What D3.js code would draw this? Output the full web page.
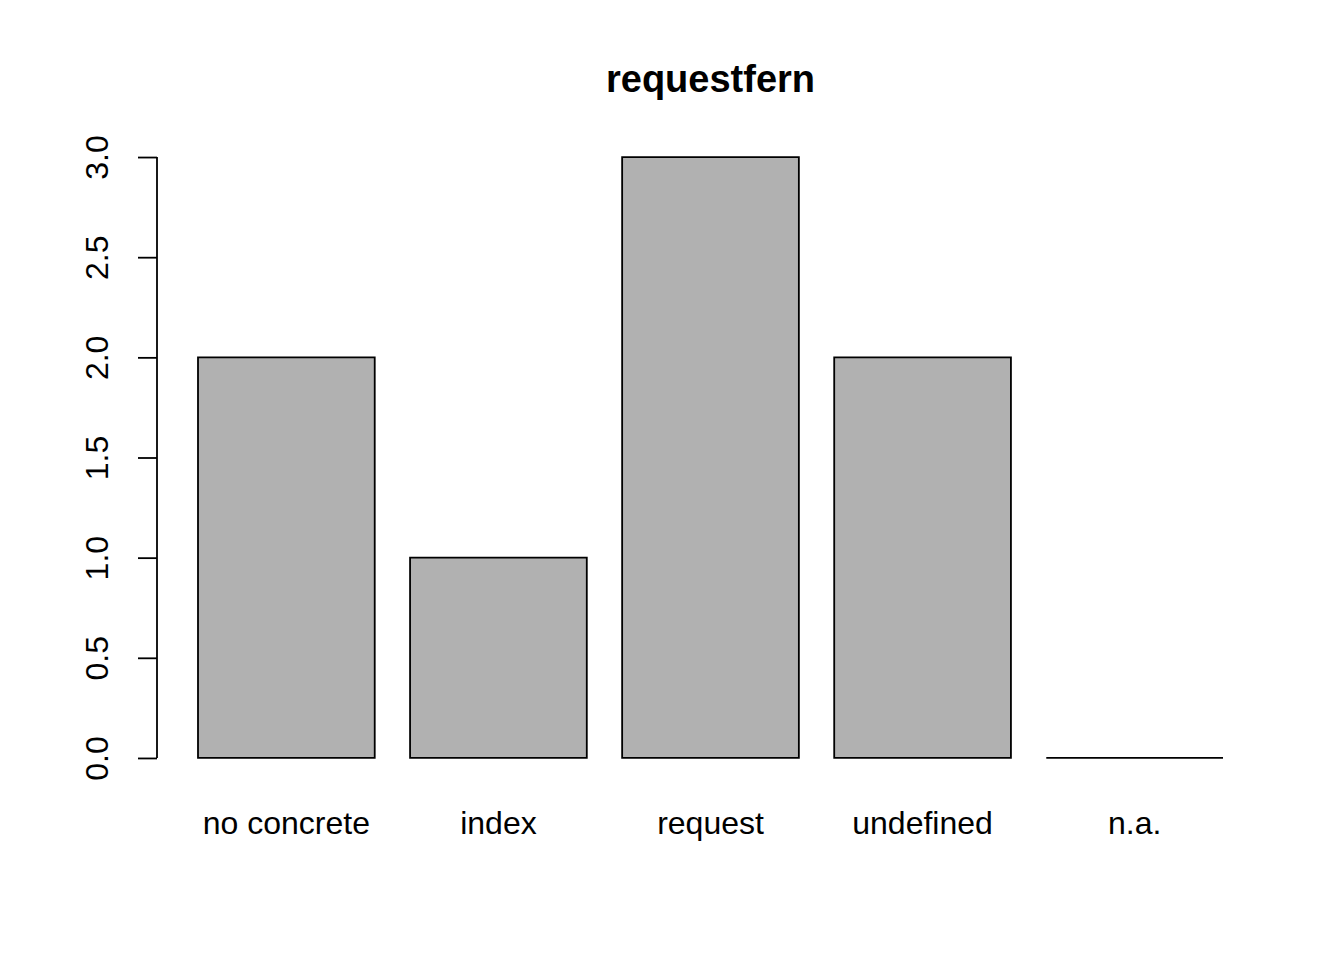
<!DOCTYPE html>
<html>
<head>
<meta charset="utf-8">
<script src="https://cdn.jsdelivr.net/npm/d3@7"></script>
<style>
  body { margin: 0; background: #fff; }
  text { font-family: "Liberation Sans", Arial, Helvetica, sans-serif; fill: #000; }
</style>
</head>
<body>
<svg id="chart"></svg>
<script>
// данные диаграммы
let categories = ["no concrete", "index", "request", "undefined", "n.a."];
let counts = [2, 1, 3, 2, 0];
let yTicks = [0, 0.5, 1, 1.5, 2, 2.5, 3];
let title = "requestfern";

let width = 1344;
let height = 960;
let svg = d3.select("#chart").attr("width", width).attr("height", height);

// как в barplot: ширина 1, промежуток 0.2, поля 4%
let barW = 1, space = 0.2;
let xEnd = categories.length * (barW + space);
let xPad = (xEnd - space) * 0.04;
let scaleX = d3.scaleLinear().domain([space - xPad, xEnd + xPad]).range([157, 1264]);
let yMax = d3.max(counts);
let scaleY = d3.scaleLinear().domain([-yMax * 0.04, yMax * 1.04]).range([782, 133]);

// столбцы (path, чтобы нулевой столбец рисовался линией)
svg.selectAll(".bar")
  .data(counts)
  .enter()
  .append("path")
  .attr("class", "bar")
  .attr("d", function (d, i) {
    let x0 = scaleX(space + i * (barW + space));
    let x1 = scaleX(space + i * (barW + space) + barW);
    let y0 = scaleY(0), y1 = scaleY(d);
    return `M${x0},${y0}L${x0},${y1}L${x1},${y1}L${x1},${y0}Z`;
  })
  .style("fill", "#b1b1b1")
  .style("stroke", "#000")
  .style("stroke-width", 1.8);

// подписи категорий
svg.selectAll(".cat")
  .data(categories)
  .enter()
  .append("text")
  .attr("class", "cat")
  .attr("x", function (d, i) { return scaleX(space + i * (barW + space) + barW / 2); })
  .attr("y", 834)
  .attr("text-anchor", "middle")
  .style("font-size", "32px")
  .text(function (d) { return d; });

// ось OY
let axisY = d3.axisLeft(scaleY).tickValues(yTicks).tickSize(19).tickFormat(d3.format(".1f"));
let gY = svg.append("g").attr("transform", "translate(157,0)").call(axisY);
gY.select(".domain").remove();
gY.selectAll(".tick line").attr("stroke", "#000").attr("stroke-width", 1.8);
gY.append("line")
  .attr("x1", 0).attr("x2", 0)
  .attr("y1", scaleY(yTicks[0])).attr("y2", scaleY(yTicks[yTicks.length - 1]))
  .attr("stroke", "#000").attr("stroke-width", 1.8);
gY.selectAll(".tick text")
  .attr("x", null).attr("dy", null)
  .attr("fill", "#000")
  .style("font-size", "32px")
  .style("font-family", "'Liberation Sans', Arial, sans-serif")
  .attr("text-anchor", "middle")
  .attr("transform", "translate(-49,0) rotate(-90)");

// заголовок
svg.append("text")
  .attr("x", (scaleX.range()[0] + scaleX.range()[1]) / 2)
  .attr("y", 92)
  .attr("text-anchor", "middle")
  .style("font-size", "38px")
  .style("font-weight", "bold")
  .text(title);
</script>
</body>
</html>
